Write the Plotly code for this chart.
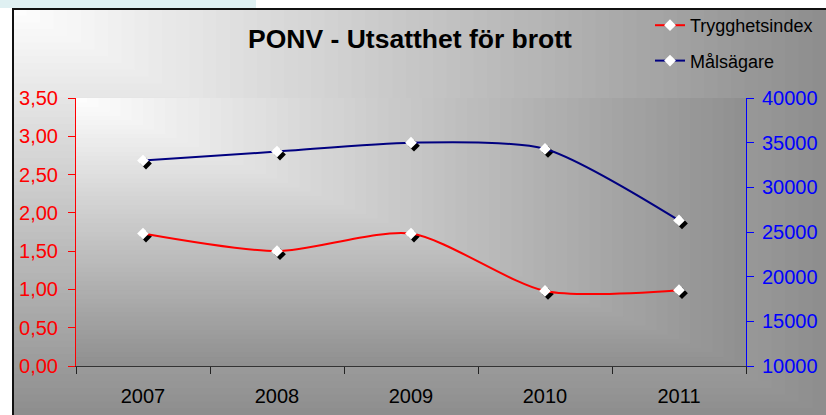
import base64
import plotly.graph_objects as go

years = ["2007", "2008", "2009", "2010", "2011"]
trygghetsindex = [1.73, 1.50, 1.73, 0.98, 0.99]
malsagare = [33000, 34000, 35000, 34300, 26300]

W, H = 826, 415
L, R, T, B = 76, 746, 98, 366   # plot area in pixels
pw, ph = R - L, B - T


def corner_gradient(w, h, light, dark, steps=60):
    # excel style "from corner" fill, rectangles shrinking to the top left
    rects = []
    for i in range(steps, 0, -1):
        t = i / steps
        g = round(light + (dark - light) * t)
        rects.append(f'<rect x="0" y="0" width="{w * t:.2f}" height="{h * t:.2f}" fill="rgb({g},{g},{g})"/>')
    svg = (f'<svg xmlns="http://www.w3.org/2000/svg" width="{w}" height="{h}" '
           f'viewBox="0 0 {w} {h}" preserveAspectRatio="none">' + "".join(rects) + "</svg>")
    return "data:image/svg+xml;base64," + base64.b64encode(svg.encode()).decode()


# pixel -> paper coords
def px_x(x):
    return (x - L) / pw


def px_y(y):
    return (B - y) / ph


# shadow offset of the markers: 3px right, 3px down
dx = 3 / pw * 5
dy_red = 3 / ph * 3.5
dy_blue = 3 / ph * 30000

fig = go.Figure()

# shadows on the hidden base axes (drawn first)
fig.add_trace(go.Scatter(x=years, y=trygghetsindex, mode="markers", xaxis="x", yaxis="y",
                         marker=dict(symbol="diamond", size=9, color="black"),
                         showlegend=False, hoverinfo="skip"))
fig.add_trace(go.Scatter(x=years, y=malsagare, mode="markers", xaxis="x", yaxis="y2",
                         marker=dict(symbol="diamond", size=9, color="black"),
                         showlegend=False, hoverinfo="skip"))

fig.add_trace(go.Scatter(x=years, y=trygghetsindex, name="Trygghetsindex", mode="lines+markers",
                         xaxis="x2", yaxis="y3", legendgroup="a",
                         line=dict(color="#ff0000", width=2, shape="spline", smoothing=0.75),
                         marker=dict(symbol="diamond", size=9, color="white")))
fig.add_trace(go.Scatter(x=years, y=malsagare, name="Målsägare", mode="lines+markers",
                         xaxis="x2", yaxis="y4", legendgroup="b",
                         line=dict(color="#000080", width=2, shape="spline", smoothing=0.7),
                         marker=dict(symbol="diamond", size=9, color="white")))

font = "Liberation Sans, Arial, sans-serif"

fig.update_layout(
    width=W, height=H,
    margin=dict(l=L, r=W - R, t=T, b=H - B, autoexpand=False),
    paper_bgcolor="white",
    plot_bgcolor="rgba(0,0,0,0)",
    separators=", ",
    font=dict(family=font, color="black"),
    title=dict(text="<b>PONV - Utsatthet för brott</b>", x=410 / W, xanchor="center",
               y=1 - 39 / H, yanchor="middle", font=dict(size=26.5, color="black")),
    showlegend=True,
    legend=dict(xref="container", yref="container", x=650 / W, y=1 - 7 / H,
                xanchor="left", yanchor="top", bgcolor="rgba(0,0,0,0)",
                font=dict(size=18, color="black"), tracegroupgap=9),
    xaxis=dict(visible=False, type="category", range=[-0.5 - dx, 4.5 - dx]),
    yaxis=dict(visible=False, range=[dy_red, 3.5 + dy_red]),
    yaxis2=dict(visible=False, range=[10000 + dy_blue, 40000 + dy_blue], overlaying="y"),
    xaxis2=dict(overlaying="x", anchor="y3", type="category", range=[-0.5, 4.5],
                tickson="boundaries", ticks="outside", ticklen=7, tickcolor="#222",
                ticklabelstandoff=12,
                showline=True, linecolor="#333", linewidth=1, showgrid=False,
                tickfont=dict(size=20, color="black")),
    yaxis3=dict(overlaying="y", anchor="x2", side="left", range=[0, 3.5], dtick=0.5,
                tickformat=".2f", ticks="outside", ticklen=7, tickcolor="red",
                ticklabelstandoff=6,
                showline=True, linecolor="red", linewidth=1, showgrid=False, zeroline=False,
                tickfont=dict(size=20, color="red")),
    yaxis4=dict(overlaying="y", anchor="x2", side="right", range=[10000, 40000], dtick=5000,
                tickformat="d", ticks="outside", ticklen=7, tickcolor="blue",
                ticklabelstandoff=4,
                showline=True, linecolor="blue", linewidth=1, showgrid=False, zeroline=False,
                tickfont=dict(size=20, color="blue")),
)

# chart area and plot area gradients
fig.add_layout_image(dict(source=corner_gradient(W - 13, H - 9, 255, 142),
                          xref="paper", yref="paper", x=px_x(13), y=px_y(9),
                          sizex=(W - 13) / pw, sizey=(H - 9) / ph,
                          xanchor="left", yanchor="top", sizing="stretch", layer="below"))
fig.add_layout_image(dict(source=corner_gradient(pw, ph, 255, 144),
                          xref="paper", yref="paper", x=0, y=1, sizex=1, sizey=1,
                          xanchor="left", yanchor="top", sizing="stretch", layer="below"))

# light strip on top and the chart frame
fig.add_shape(type="rect", xref="paper", yref="paper", layer="below",
              x0=px_x(0), x1=px_x(256), y0=px_y(8), y1=px_y(-2),
              fillcolor="#dff0f2", line_width=0)
fig.add_shape(type="rect", xref="paper", yref="paper", layer="above",
              x0=px_x(13), x1=px_x(W + 20), y0=px_y(H + 20), y1=px_y(9),
              fillcolor="rgba(0,0,0,0)", line=dict(color="#111", width=2))

# no default page margin, so the figure fills the window
fig.write_html("out.html", config={"displayModeBar": False},
               post_script="document.body.style.margin='0';document.body.style.overflow='hidden';")
